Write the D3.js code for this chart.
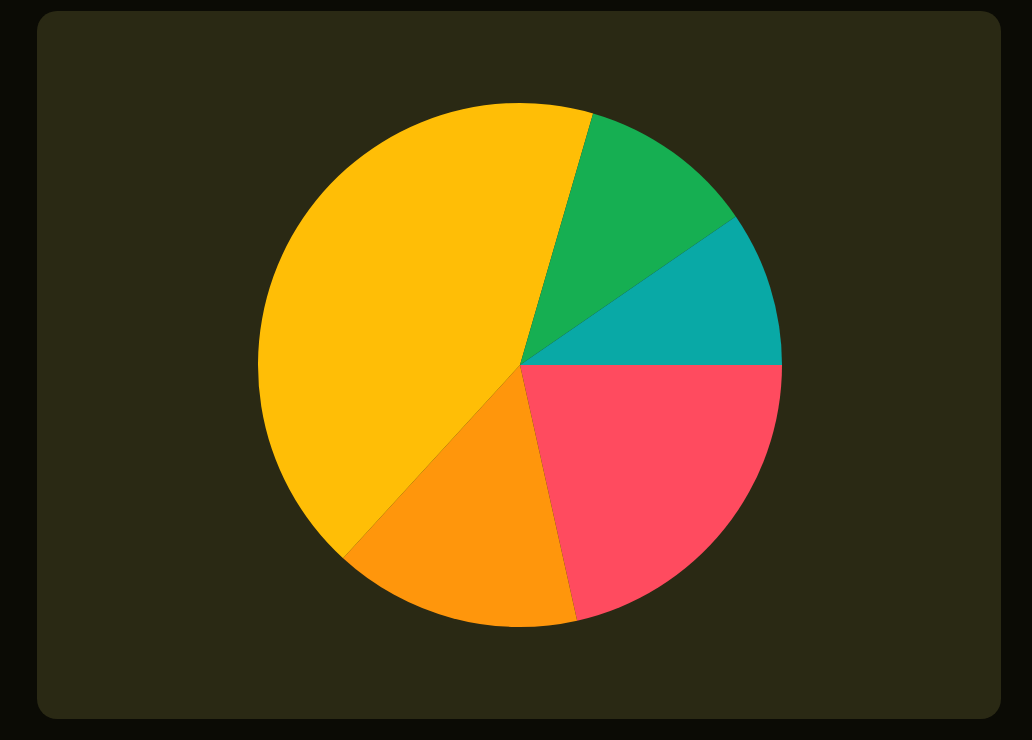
<!DOCTYPE html>
<html>
<head>
<meta charset="utf-8">
<script src="https://cdn.jsdelivr.net/npm/d3@7"></script>
<style>
html,body{margin:0;padding:0;background:#0b0b05;}
svg{display:block;}
</style>
</head>
<body>
<svg id="chart" width="1032" height="740"></svg>
<script>
// Data (clockwise from 3 o'clock)
const categories = ["Red", "Orange", "Yellow", "Green", "Teal"];
const values = [21.5, 15.3, 42.7, 10.9, 9.6];
const colors = ["#ff4b5f", "#ff960c", "#ffbe06", "#16af52", "#09a9a6"];

const W = 1032, H = 740;
const svg = d3.select("#chart");

svg.append("rect").attr("x", 0).attr("y", 0).attr("width", W).attr("height", H).attr("fill", "#0b0b05");
svg.append("rect").attr("x", 37).attr("y", 11).attr("width", 964).attr("height", 708)
  .attr("rx", 20).attr("ry", 20).attr("fill", "#2a2914");

const cx = 520, cy = 365, r = 262;
const color = d3.scaleOrdinal().domain(categories).range(colors);

const pie = d3.pie().sort(null).value(d => d.value)
  .startAngle(Math.PI / 2).endAngle(Math.PI / 2 + 2 * Math.PI);
const arc = d3.arc().innerRadius(0).outerRadius(r);

const data = categories.map((c, i) => ({ name: c, value: values[i] }));

svg.append("g").attr("transform", `translate(${cx},${cy})`)
  .selectAll("path").data(pie(data)).join("path")
  .attr("d", arc)
  .attr("fill", d => color(d.data.name));
</script>
</body>
</html>
